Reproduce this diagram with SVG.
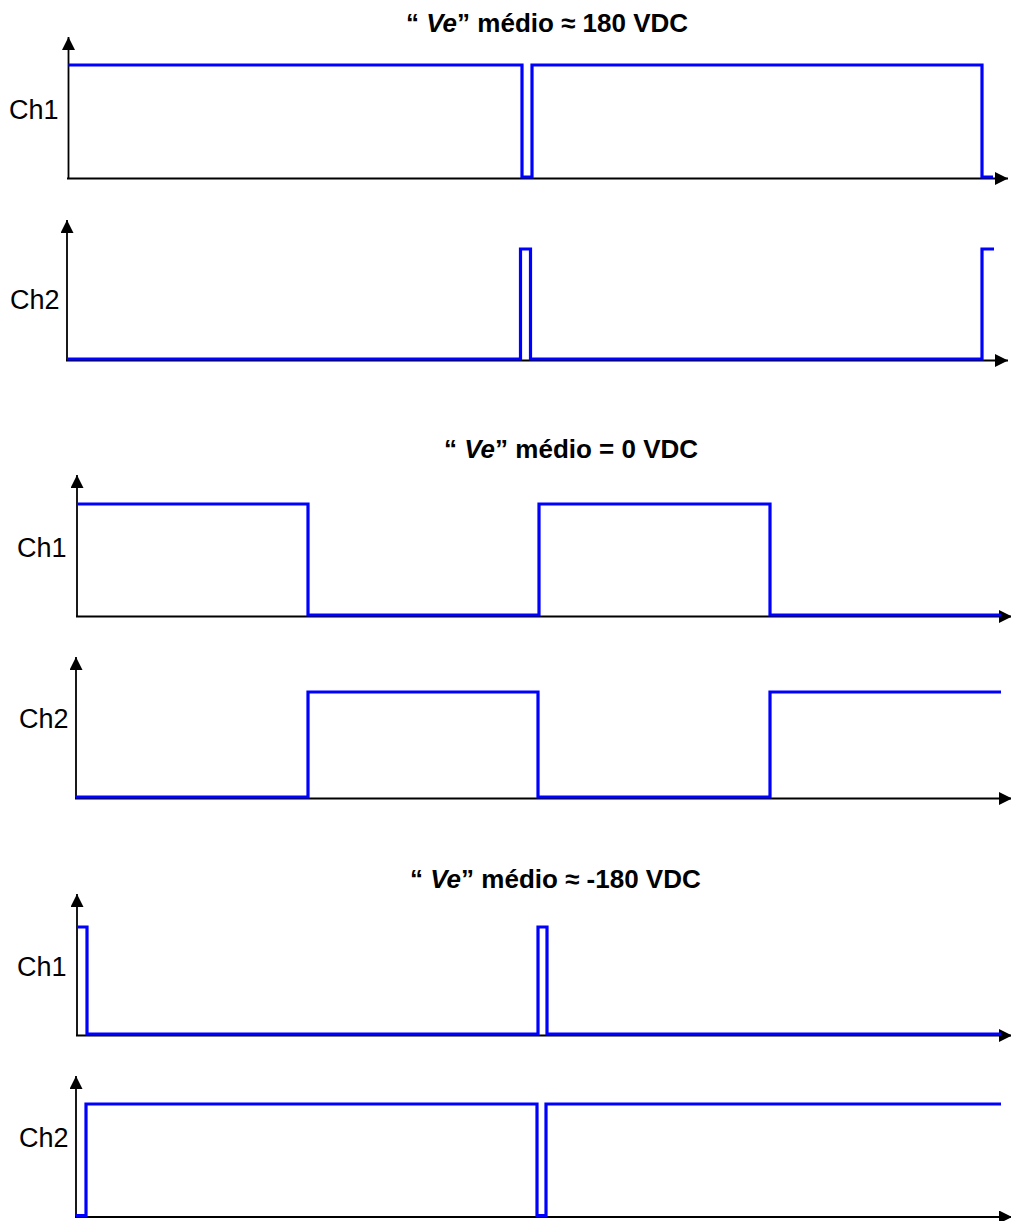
<svg xmlns="http://www.w3.org/2000/svg" width="1011" height="1221" viewBox="0 0 1011 1221">
<style>
.axis{stroke:#000;stroke-width:1.8;fill:none;marker-end:url(#arr)}
.sig{stroke:#0000FF;stroke-width:3.2;fill:none;stroke-linejoin:miter;stroke-linecap:butt}
.lbl{font-family:"Liberation Sans",Arial,sans-serif;font-size:27px;fill:#000}
.ttl{font-family:"Liberation Sans",Arial,sans-serif;font-size:26px;font-weight:bold;fill:#000}
</style>
<defs>
<marker id="arr" markerUnits="userSpaceOnUse" markerWidth="14" markerHeight="13" refX="13" refY="6.5" orient="auto" viewBox="0 0 14 13">
<path d="M0,0 L13,6.5 L0,13 z" fill="#000"/>
</marker>
</defs>
<rect width="1011" height="1221" fill="#fff"/>

<g id="panel1">
<text id="title1" class="ttl" x="406" y="32">“ <tspan font-style="italic">Ve</tspan>” médio ≈ 180 VDC</text>
<g id="p1-ch1">
<text class="lbl" x="9" y="119">Ch1</text>
<g class="connectors">
<line class="axis" x1="68.5" y1="178.5" x2="68.5" y2="37"/>
<line class="axis" x1="67" y1="178.5" x2="1008" y2="178.5"/>
</g>
<polyline class="sig" points="68.5,65 522,65 522,177 532,177 532,65 982,65 982,177 993,177"/>
</g>
<g id="p1-ch2">
<text class="lbl" x="10" y="309">Ch2</text>
<g class="connectors">
<line class="axis" x1="67" y1="360.5" x2="67" y2="220"/>
<line class="axis" x1="66" y1="360.5" x2="1008" y2="360.5"/>
</g>
<polyline class="sig" points="67,359 520.5,359 520.5,249 530.5,249 530.5,359 982,359 982,249 994,249"/>
</g>
</g>

<g id="panel2">
<text id="title2" class="ttl" x="444" y="458">“ <tspan font-style="italic">Ve</tspan>” médio = 0 VDC</text>
<g id="p2-ch1">
<text class="lbl" x="17" y="557">Ch1</text>
<g class="connectors">
<line class="axis" x1="77" y1="616.5" x2="77" y2="475"/>
<line class="axis" x1="76" y1="616.5" x2="1012" y2="616.5"/>
</g>
<polyline class="sig" points="77,504 308,504 308,615 539,615 539,504 770,504 770,615 1001,615"/>
</g>
<g id="p2-ch2">
<text class="lbl" x="19" y="728">Ch2</text>
<g class="connectors">
<line class="axis" x1="76" y1="798.5" x2="76" y2="657"/>
<line class="axis" x1="75" y1="798.5" x2="1012" y2="798.5"/>
</g>
<polyline class="sig" points="76,797 308,797 308,692 538,692 538,797 770,797 770,692 1001,692"/>
</g>
</g>

<g id="panel3">
<text id="title3" class="ttl" x="410" y="888">“ <tspan font-style="italic">Ve</tspan>” médio ≈ -180 VDC</text>
<g id="p3-ch1">
<text class="lbl" x="17" y="976">Ch1</text>
<g class="connectors">
<line class="axis" x1="77" y1="1035.5" x2="77" y2="894"/>
<line class="axis" x1="76" y1="1035.5" x2="1012" y2="1035.5"/>
</g>
<polyline class="sig" points="77,927 87,927 87,1034 538,1034 538,927 547,927 547,1034 1001,1034"/>
</g>
<g id="p3-ch2">
<text class="lbl" x="19" y="1147">Ch2</text>
<g class="connectors">
<line class="axis" x1="76" y1="1217" x2="76" y2="1076"/>
<line class="axis" x1="75" y1="1217" x2="1012" y2="1217"/>
</g>
<polyline class="sig" points="76,1215.5 86,1215.5 86,1104 537,1104 537,1215.5 546,1215.5 546,1104 1001,1104"/>
</g>
</g>
</svg>
